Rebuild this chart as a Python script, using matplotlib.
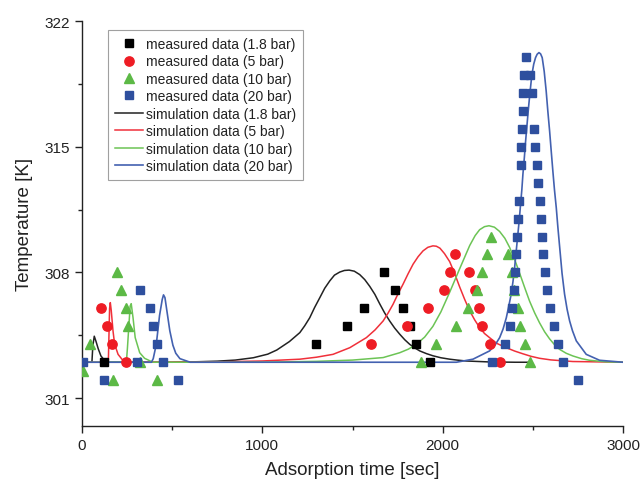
import matplotlib
matplotlib.use("Agg")
import matplotlib.pyplot as plt
from matplotlib.ticker import MultipleLocator

plt.rcParams['font.family'] = ['Liberation Sans', 'DejaVu Sans']

# ---------------- measured data ----------------
meas_18_t = [122, 1300, 1472, 1561, 1673, 1738, 1780, 1821, 1854, 1928]
meas_18_T = [303, 304, 305, 306, 308, 307, 306, 305, 304, 303]

meas_5_t = [104, 140, 168, 246, 1600, 1800, 1921, 2006, 2043, 2070, 2144, 2177, 2201, 2220, 2260, 2316]
meas_5_T = [306, 305, 304, 303, 304, 305, 306, 307, 308, 309, 308, 307, 306, 305, 304, 303]

meas_10_t = [5, 43, 172, 192, 218, 242, 255, 320, 416, 1878, 1962, 2076, 2143, 2193, 2220, 2245,
             2266, 2364, 2383, 2395, 2420, 2430, 2457, 2485]
meas_10_T = [302.5, 304, 302, 308, 307, 306, 305, 303, 302, 303, 304, 305, 306, 307, 308, 309,
             310, 309, 308, 307, 306, 305, 304, 303]

meas_20_t = [5, 122, 303, 322, 377, 394, 416, 450, 530,
             2463, 2451, 2485, 2447, 2494, 2444, 2442, 2507, 2437, 2514, 2433, 2522, 2527,
             2424, 2537, 2417, 2543, 2413, 2550, 2407, 2556, 2402, 2565, 2393, 2578,
             2383, 2593, 2374, 2615, 2346, 2637, 2272, 2670, 2753]
meas_20_T = [303, 302, 303, 307, 306, 305, 304, 303, 302,
             320, 319, 319, 318, 318, 317, 316, 316, 315, 315, 314, 314, 313,
             312, 312, 311, 311, 310, 310, 309, 309, 308, 308, 307, 307,
             306, 306, 305, 305, 304, 304, 303, 303, 302]

# ---------------- simulation data ----------------
sim_18_t = [0, 55, 60, 68, 78, 90, 105, 125, 150, 300, 500, 650, 750, 850, 950, 1030, 1080, 1150,
            1208, 1235, 1263, 1290, 1319, 1346, 1374, 1400, 1429, 1455, 1481, 1510, 1540, 1568,
            1596, 1624, 1651, 1678, 1706, 1734, 1762, 1790, 1817, 1845, 1873, 1910, 1946, 1990,
            2039, 2080, 2130, 2250, 2400, 2490]
sim_18_T = [303, 303, 303.9, 304.45, 304.15, 303.75, 303.35, 303.1, 303, 303, 303, 303.03, 303.06,
            303.12, 303.25, 303.45, 303.68, 304.15, 304.65, 305.03, 305.48, 306.05, 306.6, 307.12,
            307.53, 307.85, 308.02, 308.11, 308.13, 308.07, 307.88, 307.6, 307.22, 306.78, 306.25,
            305.75, 305.3, 304.9, 304.56, 304.25, 304.0, 303.8, 303.63, 303.48, 303.36, 303.25,
            303.17, 303.12, 303.07, 303.02, 303.0, 303.0]

sim_5_t = [0, 146, 150, 153, 157, 162, 172, 181, 200, 227, 255, 300, 500, 800, 1000, 1208, 1300,
           1392, 1485, 1577, 1625, 1670, 1698, 1725, 1752, 1780, 1808, 1836, 1864, 1891, 1918,
           1946, 1965, 1985, 2010, 2039, 2066, 2094, 2122, 2150, 2178, 2205, 2232, 2260, 2300,
           2353, 2400, 2445, 2490, 2537, 2600, 2722, 3000]
sim_5_T = [303, 303, 304.7, 306.0, 306.32, 305.9, 304.74, 304.0, 303.44, 303.1, 303.0, 303.0,
           303.0, 303.03, 303.07, 303.17, 303.28, 303.44, 303.81, 304.37, 304.8, 305.3, 305.75,
           306.23, 306.8, 307.34, 307.92, 308.46, 308.88, 309.2, 309.4, 309.48, 309.46, 309.35,
           309.05, 308.6, 307.95, 307.2, 306.5, 305.86, 305.35, 304.93, 304.6, 304.37, 304.05,
           303.81, 303.62, 303.47, 303.33, 303.22, 303.13, 303.04, 303.0]

sim_10_t = [0, 246, 252, 258, 267, 273, 283, 295, 320, 347, 393, 1000, 1300, 1500, 1670, 1762,
            1810, 1854, 1900, 1946, 1990, 2039, 2094, 2150, 2180, 2205, 2232, 2257, 2287, 2316,
            2345, 2371, 2400, 2427, 2455, 2482, 2510, 2537, 2565, 2593, 2620, 2648, 2685, 2722,
            2770, 2814, 2906, 3000]
sim_10_T = [303, 303, 303.8, 304.74, 306.13, 306.26, 305.48, 304.37, 303.53, 303.22, 303.0,
            303.0, 303.05, 303.12, 303.26, 303.53, 303.73, 304.0, 304.4, 305.0, 305.8, 306.9,
            308.2, 309.5, 310.05, 310.38, 310.55, 310.6, 310.52, 310.28, 309.9, 309.4, 308.7,
            307.95, 307.15, 306.4, 305.75, 305.2, 304.7, 304.3, 303.98, 303.72, 303.5, 303.35,
            303.2, 303.11, 303.02, 303.0]

sim_20_t = [0, 385, 395, 412, 430, 445, 452, 460, 468, 487, 504, 520, 543, 600, 1000, 1800, 2076,
            2168, 2260, 2290, 2316, 2335, 2353, 2366, 2380, 2390, 2399, 2408, 2417, 2425, 2432,
            2439, 2445, 2453, 2460, 2468, 2476, 2485, 2495, 2505, 2515, 2524, 2534, 2543, 2552,
            2563, 2574, 2583, 2593, 2602, 2611, 2620, 2630, 2639, 2648, 2662, 2676, 2690, 2704,
            2720, 2741, 2796, 2870, 3000]
sim_20_T = [303, 303, 303.2, 304.0, 305.6, 306.5, 306.75, 306.6, 306.05, 304.75, 303.95, 303.5,
            303.2, 303.0, 303.0, 303.0, 303.0, 303.17, 303.63, 303.95, 304.37, 304.85, 305.48,
            306.1, 306.79, 307.5, 308.27, 309.2, 310.13, 310.95, 311.8, 312.6, 313.47, 314.4,
            315.32, 316.25, 317.17, 318.1, 319.03, 319.6, 319.96, 320.15, 320.24, 320.17, 319.96,
            319.2, 318.1, 317.0, 315.88, 314.75, 313.65, 312.6, 311.6, 310.5, 309.5, 307.95,
            306.79, 305.95, 305.3, 304.75, 304.19, 303.44, 303.11, 303.0]

labels_meas = ['measured data (1.8 bar)', 'measured data (5 bar)',
               'measured data (10 bar)', 'measured data (20 bar)']
labels_sim = ['simulation data (1.8 bar)', 'simulation data (5 bar)',
              'simulation data (10 bar)', 'simulation data (20 bar)']

x_ticks = [0, 1000, 2000, 3000]
y_ticks = [301, 308, 315, 322]

c_black = '#000000'
c_red = '#ee1c24'
c_green = '#5cb946'
c_blue = '#2e4f9e'
cl_red = '#f0303a'
cl_green = '#6cc455'
cl_blue = '#4361b0'

fig = plt.figure(figsize=(6.42, 4.81), dpi=100)
ax = fig.add_axes([82 / 642, 1 - 427 / 481, 541 / 642, 405 / 481])

h1, = ax.plot(meas_18_t, meas_18_T, ls='none', marker='s', ms=5.4, color=c_black, label=labels_meas[0], zorder=3)
h2, = ax.plot(meas_5_t, meas_5_T, ls='none', marker='o', ms=6.7, color=c_red, label=labels_meas[1], zorder=3)
h3, = ax.plot(meas_10_t, meas_10_T, ls='none', marker='^', ms=7.2, color=c_green, label=labels_meas[2], zorder=3)
h4, = ax.plot(meas_20_t, meas_20_T, ls='none', marker='s', ms=5.4, color=c_blue, label=labels_meas[3], zorder=3)

l1, = ax.plot(sim_18_t, sim_18_T, color='#222222', lw=1.1, label=labels_sim[0], zorder=2)
l2, = ax.plot(sim_5_t, sim_5_T, color=cl_red, lw=1.1, label=labels_sim[1], zorder=2)
l3, = ax.plot(sim_10_t, sim_10_T, color=cl_green, lw=1.1, label=labels_sim[2], zorder=2)
l4, = ax.plot(sim_20_t, sim_20_T, color=cl_blue, lw=1.2, label=labels_sim[3], zorder=2.5)
for ln in (l1, l2, l3, l4):
    ln.set_solid_joinstyle('round')

ax.set_xlim(0, 3000)
ax.set_ylim(299.45, 322)
ax.set_xticks(x_ticks)
ax.set_yticks(y_ticks)
ax.xaxis.set_minor_locator(MultipleLocator(500))
ax.yaxis.set_minor_locator(MultipleLocator(3.5))
ax.spines['top'].set_visible(False)
ax.spines['right'].set_visible(False)
for s in ('left', 'bottom'):
    ax.spines[s].set_color('#222222')
    ax.spines[s].set_linewidth(1.0)
ax.tick_params(which='major', direction='out', length=5, width=1.0, labelsize=11,
               colors='#222222', pad=4)
ax.tick_params(which='minor', direction='out', length=3, width=1.0, colors='#222222')

ax.set_xlabel('Adsorption time [sec]', fontsize=13.5, color='#222222', labelpad=6)
ax.set_ylabel('Temperature [K]', fontsize=13.5, color='#222222', labelpad=8)

leg = ax.legend(handles=[h1, h2, h3, h4, l1, l2, l3, l4], loc='upper left',
                bbox_to_anchor=(26 / 541, 1 - 9 / 405), borderaxespad=0,
                fontsize=10.0, frameon=True, fancybox=False, framealpha=1,
                edgecolor='#a0a0a0', handlelength=2.0, handletextpad=0.25,
                labelspacing=0.25, borderpad=0.5)
leg.get_frame().set_linewidth(0.8)
for t in leg.get_texts():
    t.set_color('#222222')

fig.savefig('out.png', dpi=100)
